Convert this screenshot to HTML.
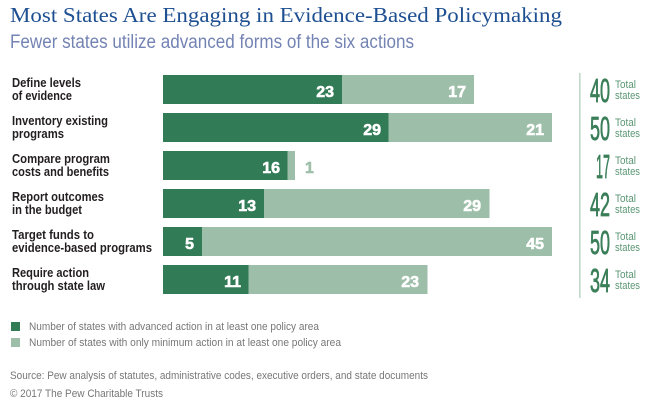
<!DOCTYPE html>
<html>
<head>
<meta charset="utf-8">
<style>
  html, body { margin:0; padding:0; background:#ffffff; }
  svg { display:block; }
</style>
</head>
<body>
<svg width="650" height="401" viewBox="0 0 650 401" xmlns="http://www.w3.org/2000/svg">
  <rect width="650" height="401" fill="#ffffff"/>

  <!-- Title -->
  <text x="10" y="22" font-family="'Liberation Serif', serif" font-size="21" fill="#1d4f91" textLength="552" lengthAdjust="spacingAndGlyphs">Most States Are Engaging in Evidence-Based Policymaking</text>
  <text x="10" y="48" font-family="'Liberation Sans', sans-serif" font-size="19" fill="#7383b3" textLength="404" lengthAdjust="spacingAndGlyphs">Fewer states utilize advanced forms of the six actions</text>

  <!-- Category labels -->
  <g font-family="'Liberation Sans', sans-serif" font-size="13" font-weight="bold" fill="#231f20">
    <text x="12" y="87" textLength="69" lengthAdjust="spacingAndGlyphs">Define levels</text>
    <text x="12" y="100" textLength="60" lengthAdjust="spacingAndGlyphs">of evidence</text>
    <text x="12" y="125" textLength="96" lengthAdjust="spacingAndGlyphs">Inventory existing</text>
    <text x="12" y="138" textLength="52" lengthAdjust="spacingAndGlyphs">programs</text>
    <text x="12" y="163" textLength="98" lengthAdjust="spacingAndGlyphs">Compare program</text>
    <text x="12" y="176" textLength="97" lengthAdjust="spacingAndGlyphs">costs and benefits</text>
    <text x="12" y="201" textLength="92" lengthAdjust="spacingAndGlyphs">Report outcomes</text>
    <text x="12" y="214" textLength="70" lengthAdjust="spacingAndGlyphs">in the budget</text>
    <text x="12" y="239" textLength="82" lengthAdjust="spacingAndGlyphs">Target funds to</text>
    <text x="12" y="252" textLength="140" lengthAdjust="spacingAndGlyphs">evidence-based programs</text>
    <text x="12" y="277" textLength="77" lengthAdjust="spacingAndGlyphs">Require action</text>
    <text x="12" y="290" textLength="93" lengthAdjust="spacingAndGlyphs">through state law</text>
  </g>

  <!-- Bars -->
  <g>
    <rect x="163" y="75" width="311" height="29" fill="#9dbea8"/>
    <rect x="163" y="75" width="179" height="29" fill="#317b56"/>
    <rect x="163" y="113" width="389" height="29" fill="#9dbea8"/>
    <rect x="163" y="113" width="225.5" height="29" fill="#317b56"/>
    <rect x="163" y="151" width="132" height="29" fill="#9dbea8"/>
    <rect x="163" y="151" width="124.5" height="29" fill="#317b56"/>
    <rect x="163" y="189" width="326.5" height="29" fill="#9dbea8"/>
    <rect x="163" y="189" width="101" height="29" fill="#317b56"/>
    <rect x="163" y="227" width="389" height="29" fill="#9dbea8"/>
    <rect x="163" y="227" width="39" height="29" fill="#317b56"/>
    <rect x="163" y="265" width="264.5" height="29" fill="#9dbea8"/>
    <rect x="163" y="265" width="85.5" height="29" fill="#317b56"/>
  </g>

  <!-- Bar values -->
  <g font-family="'Liberation Sans', sans-serif" font-size="16" font-weight="bold" fill="#ffffff" stroke="#ffffff" stroke-width="0.6" text-anchor="end">
    <text x="334" y="97">23</text>
    <text x="466" y="97">17</text>
    <text x="381" y="135">29</text>
    <text x="544" y="135">21</text>
    <text x="280" y="173">16</text>
    <text x="256" y="211">13</text>
    <text x="481" y="211">29</text>
    <text x="194" y="249">5</text>
    <text x="544" y="249">45</text>
    <text x="241" y="287">11</text>
    <text x="419" y="287">23</text>
  </g>
  <text x="305" y="173" font-family="'Liberation Sans', sans-serif" font-size="16" font-weight="bold" fill="#9dbea8" stroke="#9dbea8" stroke-width="0.5">1</text>

  <!-- Divider -->
  <rect x="579" y="73" width="1.6" height="225" fill="#c2d9ca"/>

  <!-- Totals -->
  <g font-family="'Liberation Sans', sans-serif" font-size="33" fill="#3b7f59" stroke="#3b7f59" stroke-width="0.8" text-anchor="end">
    <text x="610" y="102" textLength="20" lengthAdjust="spacingAndGlyphs">40</text>
    <text x="610" y="140" textLength="20" lengthAdjust="spacingAndGlyphs">50</text>
    <text x="610" y="178" textLength="14" lengthAdjust="spacingAndGlyphs">17</text>
    <text x="610" y="216" textLength="20" lengthAdjust="spacingAndGlyphs">42</text>
    <text x="610" y="254" textLength="20" lengthAdjust="spacingAndGlyphs">50</text>
    <text x="610" y="292" textLength="20" lengthAdjust="spacingAndGlyphs">34</text>
  </g>
  <g font-family="'Liberation Sans', sans-serif" font-size="11" fill="#5a9674">
    <text x="615" y="88" textLength="21" lengthAdjust="spacingAndGlyphs">Total</text>
    <text x="615" y="99" textLength="25" lengthAdjust="spacingAndGlyphs">states</text>
    <text x="615" y="126" textLength="21" lengthAdjust="spacingAndGlyphs">Total</text>
    <text x="615" y="137" textLength="25" lengthAdjust="spacingAndGlyphs">states</text>
    <text x="615" y="164" textLength="21" lengthAdjust="spacingAndGlyphs">Total</text>
    <text x="615" y="175" textLength="25" lengthAdjust="spacingAndGlyphs">states</text>
    <text x="615" y="202" textLength="21" lengthAdjust="spacingAndGlyphs">Total</text>
    <text x="615" y="213" textLength="25" lengthAdjust="spacingAndGlyphs">states</text>
    <text x="615" y="240" textLength="21" lengthAdjust="spacingAndGlyphs">Total</text>
    <text x="615" y="251" textLength="25" lengthAdjust="spacingAndGlyphs">states</text>
    <text x="615" y="278" textLength="21" lengthAdjust="spacingAndGlyphs">Total</text>
    <text x="615" y="289" textLength="25" lengthAdjust="spacingAndGlyphs">states</text>
  </g>

  <!-- Legend -->
  <rect x="11" y="322" width="9" height="9" fill="#317b56"/>
  <rect x="11" y="338" width="9" height="9" fill="#9dbea8"/>
  <g font-family="'Liberation Sans', sans-serif" font-size="11" fill="#777777">
    <text x="29" y="330" textLength="290" lengthAdjust="spacingAndGlyphs">Number of states with advanced action in at least one policy area</text>
    <text x="29" y="346" textLength="312" lengthAdjust="spacingAndGlyphs">Number of states with only minimum action in at least one policy area</text>
    <text x="10" y="379" textLength="418" lengthAdjust="spacingAndGlyphs">Source: Pew analysis of statutes, administrative codes, executive orders, and state documents</text>
    <text x="10" y="397" textLength="153" lengthAdjust="spacingAndGlyphs">© 2017 The Pew Charitable Trusts</text>
  </g>
</svg>
</body>
</html>
